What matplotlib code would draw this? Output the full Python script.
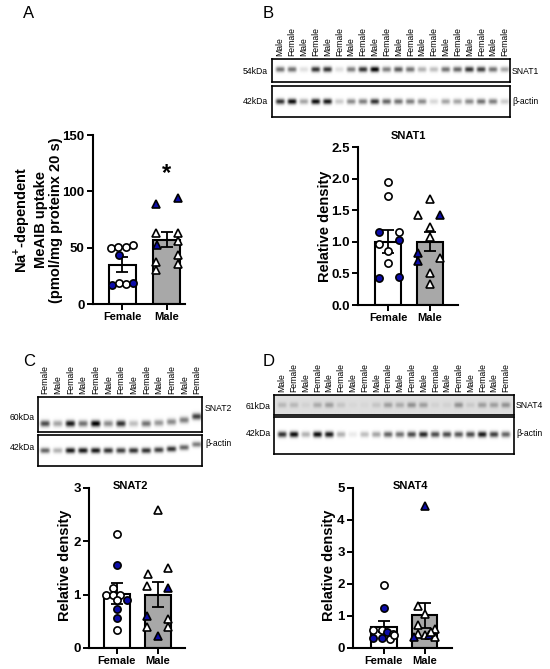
import numpy as np
import matplotlib
matplotlib.use("Agg")
import matplotlib.pyplot as plt

plt.rcParams['font.family'] = ['Liberation Sans', 'DejaVu Sans']
plt.rcParams['mathtext.fontset'] = 'custom'
plt.rcParams['mathtext.bf'] = 'Liberation Sans:bold'
plt.rcParams['mathtext.rm'] = 'Liberation Sans:bold'

W, H = 550, 669
groups = ["Female", "Male"]

# ---- A: Na+-dependent MeAIB uptake ----
a_mean = [35, 57]
a_sem = [6.5, 6.5]
a_female = [50, 51, 51, 52.5, 43.5, 17, 19, 18, 19]
a_female_blue = [0, 0, 0, 0, 1, 1, 0, 0, 1]
a_female_dx = [-0.25, -0.11, 0.09, 0.23, -0.07, -0.23, -0.09, 0.08, 0.23]
a_male = [88.5, 93.8, 63.3, 63.3, 56, 52.4, 37.6, 30, 43.5, 35.5]
a_male_blue = [1, 1, 0, 0, 0, 1, 0, 0, 0, 0]
a_male_dx = [-0.25, 0.25, -0.25, 0.25, 0.25, -0.22, -0.25, -0.25, 0.25, 0.25]

# ---- B: SNAT1 ----
b_mean = [1.0, 1.0]
b_sem = [0.18, 0.15]
b_female = [1.94, 1.73, 1.15, 1.15, 0.97, 1.03, 0.85, 0.67, 0.42, 0.45]
b_female_blue = [0, 0, 1, 0, 0, 1, 0, 0, 1, 1]
b_female_dx = [0, 0, -0.23, 0.25, -0.23, 0.25, 0, 0, -0.23, 0.25]
b_male = [1.68, 1.43, 1.43, 1.24, 1.08, 0.83, 0.69, 0.74, 0.51, 0.33]
b_male_blue = [0, 0, 1, 0, 0, 1, 1, 0, 0, 0]
b_male_dx = [0, -0.28, 0.24, 0, 0, -0.28, -0.28, 0.24, 0, 0]

# ---- C: SNAT2 ----
c_mean = [1.02, 1.0]
c_sem = [0.19, 0.23]
c_female = [2.13, 1.56, 1.13, 1.0, 1.0, 1.0, 0.9, 0.9, 0.73, 0.57, 0.34]
c_female_blue = [0, 1, 0, 0, 0, 0, 1, 0, 1, 1, 0]
c_female_dx = [0, 0, -0.09, -0.25, -0.09, 0.09, 0.26, 0, 0, 0, 0]
c_male = [2.58, 1.5, 1.38, 1.17, 1.12, 0.6, 0.55, 0.4, 0.4, 0.22]
c_male_blue = [0, 0, 0, 0, 1, 1, 0, 0, 0, 1]
c_male_dx = [0, 0.24, -0.24, -0.26, 0.24, -0.26, 0.24, -0.26, 0.24, 0]

# ---- D: SNAT4 ----
d_mean = [0.66, 1.02]
d_sem = [0.17, 0.4]
d_female = [1.98, 1.25, 0.55, 0.57, 0.5, 0.45, 0.3, 0.3, 0.28, 0.4]
d_female_blue = [0, 1, 0, 0, 1, 0, 1, 1, 0, 0]
d_female_dx = [0, 0, -0.25, -0.05, 0.08, 0.23, -0.25, -0.05, 0.15, 0.25]
d_male = [4.45, 1.3, 1.07, 0.71, 0.6, 0.45, 0.4, 0.4, 0.35, 0.33, 0.5]
d_male_blue = [1, 0, 0, 0, 0, 0, 0, 1, 0, 1, 0]
d_male_dx = [0, -0.15, 0, -0.15, 0.25, -0.15, 0, 0.1, 0.25, -0.25, 0.15]

# ---- western blots: lane order and band darkness (0-1) ----
lanes_20 = ["Male", "Female"] * 10
lanes_13 = ["Female", "Male"] * 6 + ["Female"]
snat1_bands = [0.55, 0.55, 0.12, 0.8, 0.8, 0.12, 0.5, 0.8, 1.0, 0.5,
               0.65, 0.55, 0.3, 0.25, 0.55, 0.6, 0.8, 0.75, 0.55, 0.35]
snat1_actin = [0.8, 0.95, 0.35, 0.95, 0.9, 0.2, 0.45, 0.5, 0.8, 0.6,
               0.55, 0.5, 0.45, 0.15, 0.35, 0.35, 0.45, 0.55, 0.5, 0.2]
snat2_bands = [0.7, 0.35, 0.9, 0.55, 1.0, 0.45, 0.8, 0.25, 0.55, 0.4, 0.45, 0.5, 0.75]
snat2_actin = [0.6, 0.3, 0.9, 0.9, 0.9, 0.8, 0.75, 0.8, 0.8, 0.75, 0.8, 0.6, 0.5]
snat4_bands = [0.15, 0.15, 0.05, 0.2, 0.25, 0.1, 0.03, 0.03, 0.1, 0.25,
               0.2, 0.3, 0.25, 0.05, 0.05, 0.3, 0.08, 0.25, 0.25, 0.3]
snat4_actin = [0.8, 0.95, 0.3, 0.95, 0.9, 0.3, 0.08, 0.25, 0.35, 0.6,
               0.55, 0.7, 0.85, 0.7, 0.7, 0.65, 0.7, 0.9, 0.75, 0.6]

BLUE = '#0c0ca8'
GREY = '#a8a8a8'

fig = plt.figure(figsize=(W / 100, H / 100), dpi=100)


def px_axes(left, top, right, bottom):
    return fig.add_axes([left / W, 1 - bottom / H, (right - left) / W, (bottom - top) / H])


def ftext(x, y, s, **kw):
    fig.text(x / W, 1 - y / H, s, **kw)


def bar_panel(rect, means, sems, fem, fem_blue, fem_dx, mal, mal_blue, mal_dx,
              ymax, yticks, xlim, fmt):
    ax = px_axes(*rect)
    ax.bar([0, 1], means, width=0.63, color=['white', GREY], edgecolor='black',
           linewidth=1.5, zorder=1)
    for i in range(2):
        ax.errorbar(i, means[i], yerr=sems[i], color='black', capsize=4,
                    elinewidth=1.3, capthick=1.3, zorder=2)
    for v, b, dx in zip(fem, fem_blue, fem_dx):
        ax.plot(dx, v, 'o', ms=5.2, mec='black', mew=1.2,
                mfc=BLUE if b else 'white', zorder=3, clip_on=False)
    for v, b, dx in zip(mal, mal_blue, mal_dx):
        ax.plot(1 + dx, v, '^', ms=5.6, mec='black', mew=1.2,
                mfc=BLUE if b else 'white', zorder=3, clip_on=False)
    ax.set_xlim(*xlim)
    ax.set_ylim(0, ymax)
    ax.set_yticks(yticks)
    ax.set_yticklabels([fmt.format(t) for t in yticks], fontsize=9.5, fontweight='bold')
    ax.set_xticks([0, 1])
    ax.set_xticklabels(groups, fontsize=8, fontweight='bold')
    ax.spines['top'].set_visible(False)
    ax.spines['right'].set_visible(False)
    for s in ['left', 'bottom']:
        ax.spines[s].set_linewidth(1.5)
    ax.tick_params(width=1.4, length=4, pad=2)
    return ax


def blot(rect, bands, lanes, yc, bh, pad, bg=0.0, shift=None, labels=False):
    ax = px_axes(*rect)
    n = len(bands)
    x0, x1 = -pad[0], n - 1 + pad[1]
    xs = np.linspace(x0, x1, 500)
    ys = np.linspace(0, 1, 80)
    X, Y = np.meshgrid(xs, ys)
    img = np.full(X.shape, bg)
    for i, v in enumerate(bands):
        c = yc + (shift[i] if shift else 0)
        img += v * np.exp(-((X - i) / 0.38) ** 4 - ((Y - c) / bh) ** 2)
    ax.imshow(np.clip(img, 0, 1), extent=(x0, x1, 1, 0), cmap='gray_r', vmin=0, vmax=1,
              aspect='auto', interpolation='bilinear')
    ax.set_xlim(x0, x1)
    ax.set_ylim(1, 0)
    ax.set_xticks([])
    ax.set_yticks([])
    for s in ax.spines.values():
        s.set_linewidth(1.2)
    if labels:
        for i, lab in enumerate(lanes):
            ax.annotate(lab, xy=(i, 1), xycoords=('data', 'axes fraction'),
                        xytext=(0, 2), textcoords='offset points', rotation=90,
                        ha='center', va='bottom', fontsize=6.2)
    return ax


# panel letters
for lab, x, y in [("A", 23, 14), ("B", 263, 14), ("C", 23, 361), ("D", 263, 361)]:
    ftext(x, y, lab, fontsize=12, ha='left', va='center')

# A
axA = bar_panel((93, 135, 185, 304), a_mean, a_sem, a_female, a_female_blue, a_female_dx,
                a_male, a_male_blue, a_male_dx, 150, [0, 50, 100, 150], (-0.67, 1.42), "{:.0f}")
axA.text(1, 116, "*", fontsize=17, fontweight='bold', ha='center', va='center')
ftext(37, 220, "Na$^{+}$-dependent\nMeAIB uptake\n(pmol/mg proteinx 20 s)",
      rotation=90, ha='center', va='center', fontsize=10.5, fontweight='bold',
      linespacing=1.15)

# B blots
blot((272, 59, 510, 82), snat1_bands, lanes_20, 0.45, 0.12, (0.68, 0.42), labels=True)
blot((272, 86, 510, 117), snat1_actin, lanes_20, 0.5, 0.09, (0.68, 0.42))
ftext(268, 72, "54kDa", fontsize=6.2, ha='right', va='center')
ftext(268, 101, "42kDa", fontsize=6.2, ha='right', va='center')
ftext(512, 72, "SNAT1", fontsize=6.2, ha='left', va='center')
ftext(512, 101, "β-actin", fontsize=6.2, ha='left', va='center')

# B bars
bar_panel((358, 147, 458, 305), b_mean, b_sem, b_female, b_female_blue, b_female_dx,
          b_male, b_male_blue, b_male_dx, 2.5, [0, 0.5, 1.0, 1.5, 2.0, 2.5],
          (-0.73, 1.68), "{:.1f}")
ftext(408, 136, "SNAT1", fontsize=8, fontweight='bold', ha='center', va='center')
ftext(325, 226, "Relative density", rotation=90, fontsize=10.5, fontweight='bold',
      ha='center', va='center')

# C blots
c_shift = [0, 0, 0, 0, 0, 0, 0, 0, 0, -0.02, -0.05, -0.1, -0.2]
blot((38, 397, 202, 432), snat2_bands, lanes_13, 0.77, 0.09, (0.55, 0.4),
     shift=c_shift, labels=True)
blot((38, 435, 202, 466), snat2_actin, lanes_13, 0.5, 0.09, (0.55, 0.4), shift=c_shift)
ftext(35, 417, "60kDa", fontsize=6.2, ha='right', va='center')
ftext(35, 448, "42kDa", fontsize=6.2, ha='right', va='center')
ftext(205, 409, "SNAT2", fontsize=6.2, ha='left', va='center')
ftext(205, 443, "β-actin", fontsize=6.2, ha='left', va='center')

# C bars
bar_panel((89, 488, 185, 648), c_mean, c_sem, c_female, c_female_blue, c_female_dx,
          c_male, c_male_blue, c_male_dx, 3, [0, 1, 2, 3], (-0.67, 1.66), "{:.0f}")
ftext(130, 486, "SNAT2", fontsize=8, fontweight='bold', ha='center', va='center')
ftext(65, 565, "Relative density", rotation=90, fontsize=10.5, fontweight='bold',
      ha='center', va='center')

# D blots
blot((274, 395, 514, 415), snat4_bands, lanes_20, 0.5, 0.14, (0.68, 0.68),
     bg=0.13, labels=True)
blot((274, 417, 514, 454), snat4_actin, lanes_20, 0.47, 0.08, (0.68, 0.68))
ftext(271, 406, "61kDa", fontsize=6.2, ha='right', va='center')
ftext(271, 434, "42kDa", fontsize=6.2, ha='right', va='center')
ftext(516, 405, "SNAT4", fontsize=6.2, ha='left', va='center')
ftext(516, 434, "β-actin", fontsize=6.2, ha='left', va='center')

# D bars
bar_panel((353, 488, 452, 648), d_mean, d_sem, d_female, d_female_blue, d_female_dx,
          d_male, d_male_blue, d_male_dx, 5, [0, 1, 2, 3, 4, 5], (-0.75, 1.67), "{:.0f}")
ftext(410, 486, "SNAT4", fontsize=8, fontweight='bold', ha='center', va='center')
ftext(329, 565, "Relative density", rotation=90, fontsize=10.5, fontweight='bold',
      ha='center', va='center')

fig.savefig("out.png", dpi=100)
